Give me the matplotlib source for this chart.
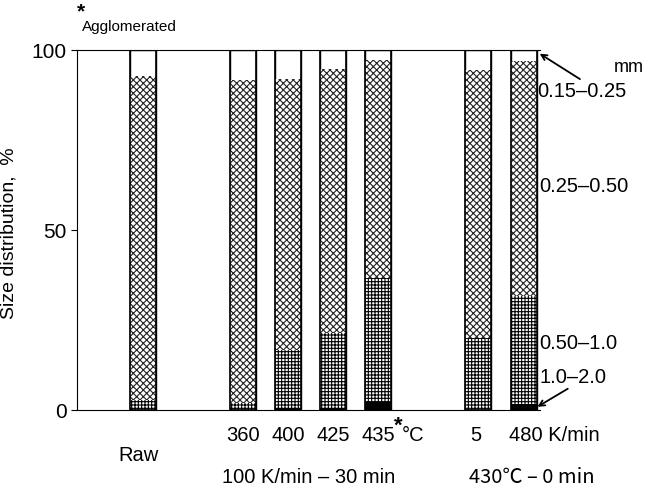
import numpy as np
import matplotlib.pyplot as plt

plt.rcParams['font.family'] = ['Liberation Sans', 'DejaVu Sans']
plt.rcParams['hatch.linewidth'] = 0.8

# bar groups and values (cumulative tops, %)
names = ['Raw', '360', '400', '425', '435', '5', '480']
pos = [0, 2.22, 3.22, 4.22, 5.22, 7.44, 8.46]
coarse = [0.0, 0.0, 0.5, 0.5, 2.3, 0.0, 1.7]         # 1.0-2.0 mm
medium = [2.8, 2.0, 16.7, 21.4, 36.7, 20.0, 31.7]    # top of 0.50-1.0 mm
fine = [92.8, 91.7, 92.0, 94.7, 97.2, 94.4, 96.9]    # top of 0.25-0.50 mm

fig = plt.figure(figsize=(6.45, 4.88), dpi=100)
ax = fig.add_axes([77/645, 1-410/488, (540-77)/645, 360/488])

w = 0.58
pos = np.array(pos)
ax.bar(pos, 100, w, bottom=0, color='white', edgecolor='black', lw=1)
ax.bar(pos, np.array(fine) - np.array(medium), w, bottom=medium,
       color='white', edgecolor='#222222', hatch='xxxxx', lw=0)
ax.bar(pos, np.array(medium) - np.array(coarse), w, bottom=coarse,
       color='white', edgecolor='#000000', hatch='+++++', lw=0)
ax.bar(pos, coarse, w, bottom=0, color='black', lw=0)
ax.bar(pos, 100, w, bottom=0, fill=False, edgecolor='black', lw=1.2)

ax.set_xlim(-1.47, 8.82)
ax.set_ylim(0, 100)
ax.spines['right'].set_visible(False)
ax.set_xticks([])
ax.set_yticks([0, 50, 100])
ax.tick_params(axis='y', labelsize=15, direction='out', length=4)
ax.set_ylabel('Size distribution,  %', fontsize=14)
ax.yaxis.set_label_coords(-0.128, 0.49)

fs = 14.5
# x labels
for p, n in zip(pos[1:5], names[1:5]):
    ax.text(p, -7.2, n, ha='center', va='center', fontsize=fs)
ax.text(pos[4] + 0.78, -7.2, '°C', ha='center', va='center', fontsize=fs)
ax.text(pos[4] + 0.45, -4.4, '*', ha='center', va='center', fontsize=16, fontweight='bold')
ax.text(pos[5] - 0.05, -7.2, names[5], ha='center', va='center', fontsize=fs)
ax.text(pos[6] - 0.32, -7.2, names[6] + ' K/min', ha='left', va='center', fontsize=fs)
ax.text(pos[0] - 0.1, -12.6, names[0], ha='center', va='center', fontsize=fs)
ax.text(3.67, -18.7, '100 K/min – 30 min', ha='center', va='center', fontsize=fs)
ax.text(8.64, -18.7, '430℃ – 0 min', ha='center', va='center', fontsize=fs,
        family=['Noto Sans CJK JP', 'Liberation Sans'])

# title
ax.text(-1.37, 106.5, 'Agglomerated', ha='left', va='center', fontsize=11)
ax.text(-1.48, 110.5, '*', ha='left', va='center', fontsize=15, fontweight='bold')

# size class labels
fs2 = 14.5
ax.text(10.8, 95, 'mm', ha='center', va='center', fontsize=13)
ax.text(8.75, 88.5, '0.15–0.25', ha='left', va='center', fontsize=fs2)
ax.annotate('', xy=(8.76, 99.4), xytext=(9.76, 91.5),
            arrowprops=dict(arrowstyle='->', color='black', lw=1.3), annotation_clip=False)
ax.text(8.8, 62, '0.25–0.50', ha='left', va='center', fontsize=fs2)
ax.text(8.8, 18.6, '0.50–1.0', ha='left', va='center', fontsize=fs2)
ax.text(8.8, 8.9, '1.0–2.0', ha='left', va='center', fontsize=fs2)
ax.annotate('', xy=(8.71, 0.5), xytext=(9.49, 6.3),
            arrowprops=dict(arrowstyle='->', color='black', lw=1.3), annotation_clip=False)

fig.savefig('out.png', dpi=100)
